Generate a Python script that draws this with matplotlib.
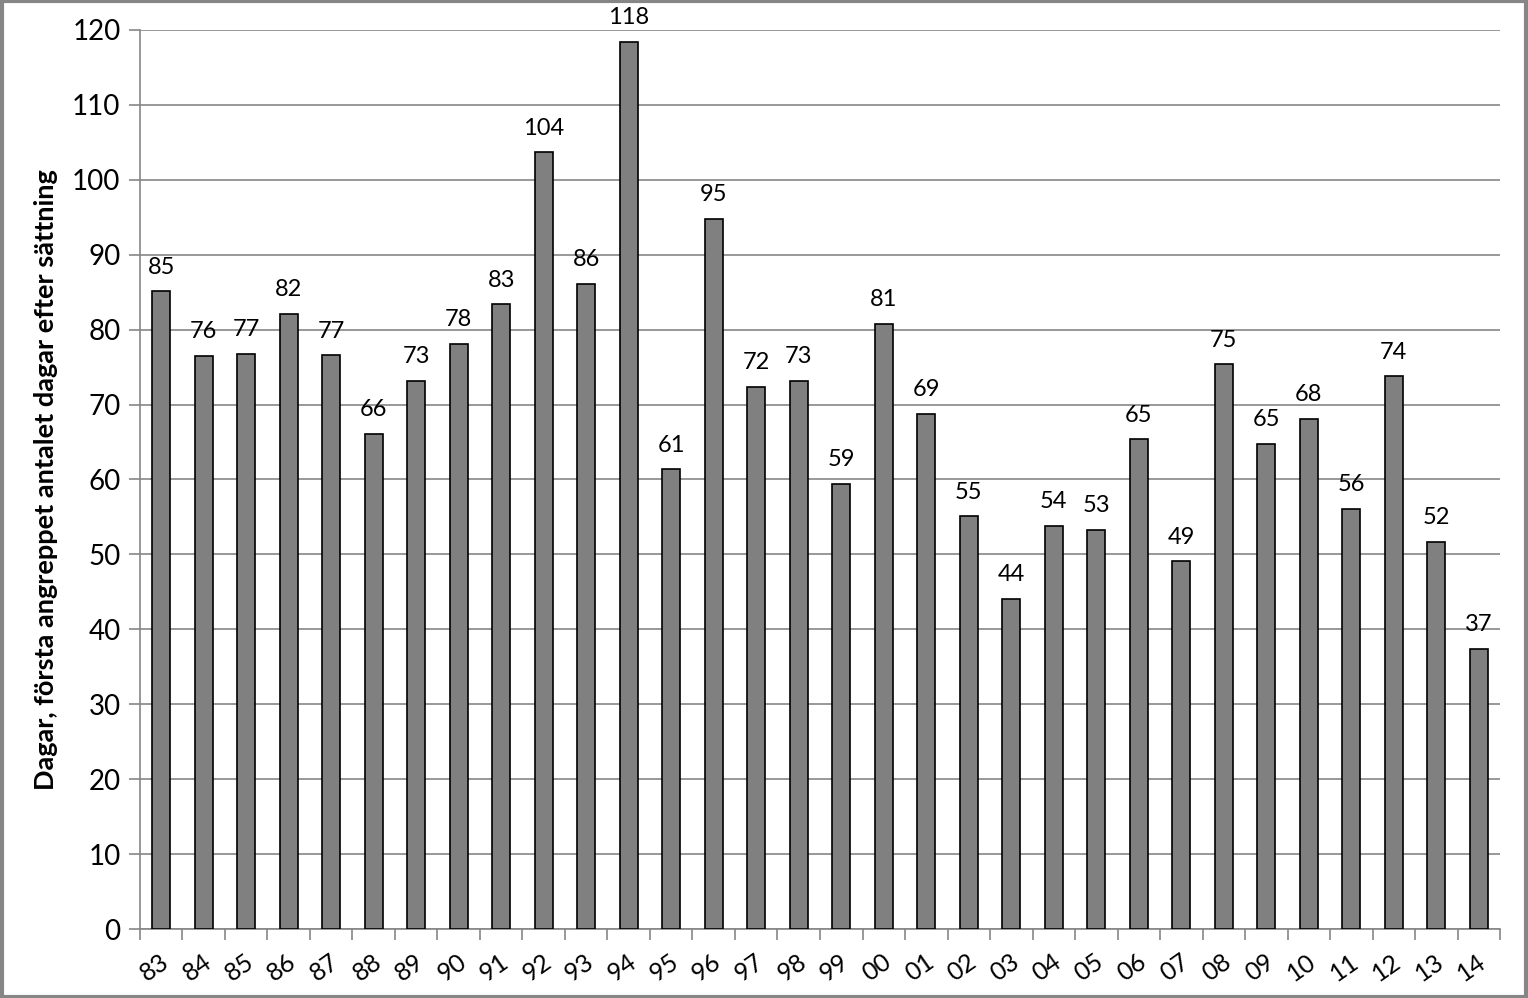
import matplotlib
matplotlib.use("Agg")
import matplotlib.pyplot as plt
import matplotlib.transforms as mtransforms
import numpy as np

plt.rcParams['font.family'] = ['Lato', 'DejaVu Sans']

years = ['83', '84', '85', '86', '87', '88', '89', '90', '91', '92', '93', '94', '95', '96', '97', '98',
         '99', '00', '01', '02', '03', '04', '05', '06', '07', '08', '09', '10', '11', '12', '13', '14']
days = [85.1, 76.5, 76.8, 82.1, 76.6, 66.1, 73.2, 78.1, 83.4, 103.7, 86.1, 118.4, 61.4, 94.8, 72.4, 73.2,
        59.4, 80.8, 68.8, 55.1, 44.1, 53.8, 53.3, 65.4, 49.1, 75.4, 64.8, 68.1, 56.1, 73.8, 51.7, 37.4]

fig = plt.figure(figsize=(15.28, 9.98), dpi=100)
ax = fig.add_axes([0.0916, 0.0691, 0.8901, 0.9009])

x = np.arange(len(years))
bars = ax.bar(x, days, width=0.42, color='#808080', edgecolor='black', linewidth=1.2, zorder=3)
for xi, v in zip(x, days):
    ax.text(xi, v + 1.8, str(int(round(v))), ha='center', va='bottom', fontsize=17)

ax.set_xlim(-0.5, len(years) - 0.5)
ax.set_ylim(0, 120)
ax.set_yticks(range(0, 121, 10))
ax.tick_params(axis='y', labelsize=20, length=8, color='#868686', width=1.2, pad=6)
ax.set_xticks(x)
ax.set_xticklabels(years, rotation=35, fontsize=18, ha='right', va='center', rotation_mode='anchor')
ax.tick_params(axis='x', length=0, pad=22)
shift = mtransforms.ScaledTranslation(0.05, 0, fig.dpi_scale_trans)
for lbl in ax.get_xticklabels():
    lbl.set_transform(lbl.get_transform() + shift)
ax.set_xticks(np.arange(-0.5, len(years), 1), minor=True)
ax.tick_params(axis='x', which='minor', length=8, color='#868686', width=1.2)
ax.grid(axis='y', color='#868686', linewidth=1.2, zorder=0)
for s in ['top', 'right']:
    ax.spines[s].set_visible(False)
for s in ['left', 'bottom']:
    ax.spines[s].set_color('#868686')
    ax.spines[s].set_linewidth(1.2)
ax.set_ylabel('Dagar, första angreppet antalet dagar efter sättning', fontsize=19.5, fontweight='bold', labelpad=10)

fig.patches.append(plt.Rectangle((0.001, 0.001), 0.998, 0.998, transform=fig.transFigure,
                                 fill=False, edgecolor='#868686', linewidth=3))
fig.savefig('out.png', dpi=100)
